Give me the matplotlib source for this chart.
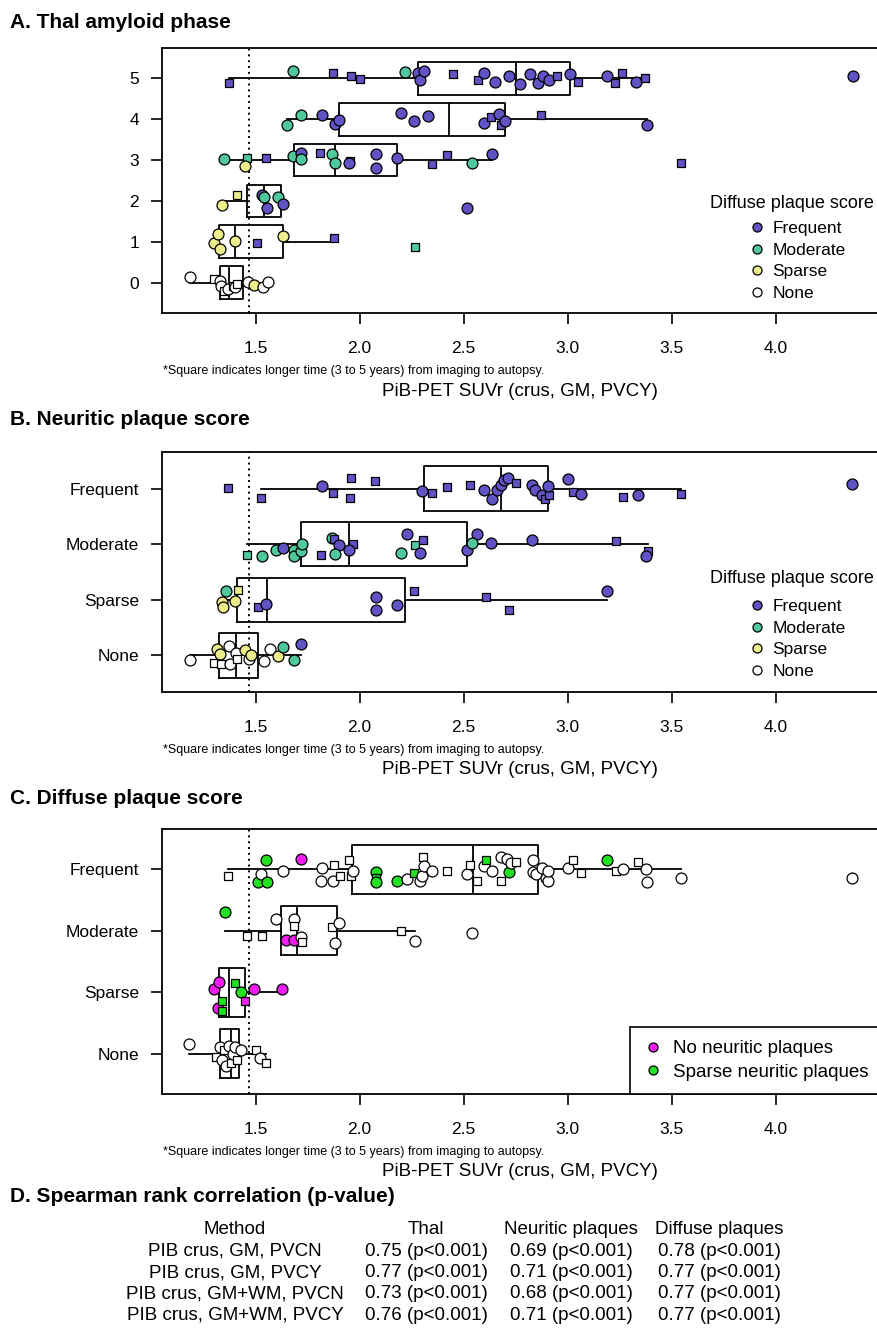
import matplotlib
matplotlib.use("Agg")
import matplotlib.pyplot as plt
from matplotlib.lines import Line2D

plt.rcParams["font.family"] = ["Liberation Sans", "DejaVu Sans"]

W, H = 877, 1339

# === colours ===
DPS_COLORS = {"F": "#6152C6", "M": "#4FC99C", "S": "#EDED8C", "N": "white"}
NP_COLORS = {"X": "#F21CF2", "G": "#22E022", "N": "white"}

# === A. Thal phase (rows 5..0) ===
thal_levels = [5, 4, 3, 2, 1, 0]
thal_suvr = [
    [1.37, 1.68, 1.87, 1.96, 2.00, 2.22, 2.28, 2.29, 2.31, 2.45, 2.57, 2.60, 2.65, 2.72,
     2.77, 2.82, 2.86, 2.88, 2.91, 2.95, 3.01, 3.05, 3.19, 3.23, 3.26, 3.33, 3.37, 4.37],
    [1.65, 1.72, 1.82, 1.88, 1.90, 2.20, 2.26, 2.33, 2.60, 2.63, 2.67, 2.68, 2.70, 2.87, 3.38],
    [1.35, 1.46, 1.45, 1.55, 1.68, 1.72, 1.72, 1.81, 1.866, 1.88, 1.955, 1.95, 2.08, 2.08,
     2.18, 2.347, 2.42, 2.54, 2.635, 3.545],
    [1.34, 1.41, 1.53, 1.54, 1.555, 1.61, 1.63, 2.515],
    [1.30, 1.32, 1.33, 1.40, 1.505, 1.63, 1.876, 2.265],
    [1.185, 1.30, 1.33, 1.335, 1.35, 1.365, 1.39, 1.40, 1.41, 1.465, 1.49, 1.535, 1.56],
]
thal_jit = [
    [-0.12, 0.17, 0.12, 0.05, -0.02, 0.15, 0.12, -0.05, 0.18, 0.1, -0.05, 0.12, -0.08, 0.05,
     -0.15, 0.1, -0.12, 0.05, -0.05, 0.05, 0.1, -0.08, 0.05, -0.12, 0.12, -0.1, 0.0, 0.05],
    [-0.15, 0.1, 0.1, -0.12, -0.02, 0.15, -0.05, 0.08, -0.1, 0.05, 0.12, -0.15, -0.05, 0.1, -0.15],
    [0.02, 0.06, -0.15, 0.04, 0.1, 0.18, 0.02, 0.18, 0.15, -0.06, -0.02, -0.06, 0.14, -0.19,
     0.06, -0.1, 0.12, -0.06, 0.16, -0.07],
    [-0.11, 0.15, 0.15, 0.09, -0.18, 0.09, -0.08, -0.18],
    [-0.02, 0.18, -0.17, 0.03, -0.04, 0.15, 0.1, -0.12],
    [0.14, 0.08, 0.04, -0.08, -0.2, -0.15, -0.08, -0.1, -0.04, 0.02, -0.06, -0.1, 0.02],
]
thal_dps = ["FMFFFM" + "F" * 22, "MMFFFFFFFFFFFFF", "MMSFMFMFMMFFFFFFFMFF",
            "SSFMFMFF", "SSSSFSFM", "NNNNNNNNNNSNN"]
thal_sq = ["1011100001100000000101011010", "000000000101010", "01010001001000011001",
           "01000000", "00001011", "0100101010000"]
thal_q1 = [2.28, 1.90, 1.685, 1.46, 1.324, 1.33]
thal_med = [2.75, 2.43, 1.88, 1.54, 1.40, 1.37]
thal_q3 = [3.01, 2.70, 2.18, 1.62, 1.63, 1.44]
thal_lo = [1.37, 1.65, 1.35, 1.34, 1.30, 1.185]
thal_hi = [3.37, 3.38, 2.635, 1.63, 1.876, 1.56]

# === B. Neuritic plaque score (Frequent..None) ===
score_labels = ["Frequent", "Moderate", "Sparse", "None"]
np_suvr = [
    [1.366, 1.526, 1.82, 1.87, 1.959, 1.954, 2.074, 2.30, 2.35, 2.42, 2.53, 2.60, 2.635, 2.66,
     2.68, 2.695, 2.714, 2.752, 2.83, 2.843, 2.875, 2.89, 2.91, 2.904, 3.0, 3.025, 3.063,
     3.265, 3.34, 3.544, 4.367],
    [1.46, 1.53, 1.60, 1.63, 1.685, 1.685, 1.717, 1.725, 1.815, 1.866, 1.875, 1.90, 1.883,
     1.967, 1.95, 2.23, 2.266, 2.306, 2.20, 2.29, 2.515, 2.563, 2.54, 2.632, 2.83, 3.233,
     3.385, 3.377],
    [1.34, 1.345, 1.356, 1.40, 1.414, 1.51, 1.55, 2.08, 2.08, 2.18, 2.26, 2.61, 2.72, 3.19],
    [1.185, 1.30, 1.315, 1.33, 1.335, 1.37, 1.375, 1.405, 1.41, 1.45, 1.47, 1.48, 1.54, 1.57,
     1.61, 1.63, 1.685, 1.72],
]
np_jit = [
    [0.02, -0.16, 0.04, -0.08, 0.2, -0.16, 0.13, -0.04, -0.08, 0.03, 0.07, -0.03, -0.18, -0.03,
     0.06, 0.15, 0.2, 0.1, 0.06, -0.03, -0.12, -0.18, -0.12, 0.04, 0.18, -0.06, -0.09,
     -0.15, -0.12, -0.09, 0.09],
    [-0.2, -0.21, -0.1, -0.07, -0.1, -0.21, -0.12, 0.01, -0.2, 0.12, 0.09, -0.01, -0.17,
     0.01, -0.1, 0.19, -0.01, 0.07, -0.15, -0.15, -0.11, 0.19, 0.03, 0.02, 0.07, 0.05,
     -0.12, -0.21],
    [-0.04, -0.13, 0.16, -0.02, 0.18, -0.13, -0.07, 0.05, -0.18, -0.09, 0.16, 0.05, -0.18, 0.16],
    [-0.08, -0.14, 0.11, 0.02, -0.15, 0.16, -0.15, 0.04, -0.06, 0.09, -0.06, 0.0, -0.1, 0.11,
     -0.01, 0.15, -0.09, 0.21],
]
np_dps = ["F" * 31, "MMMFMMMMFMFFMFFFMFMFFFMFFFFF", "SSMSSFFFFFFFFF", "NNSSNNNNNSNSNNSMMF"]
np_sq = ["1101111011100000010001100101010", "1000000010100100110000000110",
         "00001100001110", "010010001000000000"]
np_q1 = [2.31, 1.72, 1.41, 1.324]
np_med = [2.68, 1.95, 1.555, 1.405]
np_q3 = [2.907, 2.515, 2.22, 1.513]
np_lo = [1.526, 1.46, 1.34, 1.185]
np_hi = [3.544, 3.385, 3.19, 1.72]

# === C. Diffuse plaque score (Frequent..None), colour = neuritic plaques ===
dp_suvr = [
    [1.365, 1.51, 1.526, 1.55, 1.555, 1.63, 1.72, 1.815, 1.82, 1.87, 1.876, 1.906, 1.95, 1.96,
     1.97, 2.08, 2.08, 2.08, 2.18, 2.23, 2.26, 2.29, 2.30, 2.306, 2.31, 2.35, 2.42, 2.515,
     2.53, 2.563, 2.60, 2.61, 2.635, 2.68, 2.68, 2.71, 2.72, 2.73, 2.75, 2.835, 2.835, 2.85,
     2.875, 2.896, 2.905, 2.907, 3.0, 3.025, 3.063, 3.19, 3.233, 3.268, 3.34, 3.377, 3.38,
     3.544, 4.366],
    [1.353, 1.46, 1.53, 1.60, 1.646, 1.685, 1.685, 1.685, 1.72, 1.725, 1.866, 1.883, 1.90,
     2.20, 2.266, 2.54],
    [1.30, 1.32, 1.325, 1.34, 1.34, 1.40, 1.43, 1.45, 1.49, 1.628],
    [1.18, 1.31, 1.33, 1.34, 1.35, 1.36, 1.37, 1.38, 1.39, 1.40, 1.41, 1.43, 1.50, 1.52, 1.55],
]
dp_jit = [
    [-0.11, -0.21, -0.07, 0.15, -0.21, -0.02, 0.17, -0.19, 0.02, -0.18, 0.08, -0.11, 0.15,
     -0.11, -0.03, -0.04, -0.14, -0.21, -0.19, -0.15, -0.05, -0.18, -0.1, 0.2, 0.06, -0.02,
     -0.03, -0.07, 0.08, -0.18, 0.06, 0.15, -0.03, 0.2, -0.18, 0.17, -0.04, 0.1, 0.13, 0.15,
     -0.04, -0.08, 0.02, -0.14, -0.19, -0.03, 0.02, 0.16, -0.05, 0.15, -0.03, 0.0, 0.12, 0.0,
     -0.21, -0.14, -0.14],
    [0.3, -0.08, -0.08, 0.2, -0.15, 0.2, 0.08, -0.15, -0.1, -0.19, 0.06, -0.2, 0.13, 0.0,
     -0.16, -0.03],
    [0.05, -0.25, 0.16, -0.15, -0.3, 0.15, 0.0, -0.15, 0.05, 0.05],
    [0.15, -0.05, 0.1, -0.1, 0.05, -0.2, 0.12, -0.15, 0.0, 0.1, -0.1, 0.05, 0.05, -0.08, -0.15],
]
dp_np = ["NGNGGNXNNNNNNNNGGGGNGNNNNNNNNNNGNNNNGNNNNNNNNNNNNGNNNNNNN",
         "GNNNXNNXNNNNNNNN", "XXXGGGGXXX", "N" * 15]
dp_sq = ["100000000011110010001001001011010010001000000001101010000",
         "0110001001100100", "0001110100", "010010010010101"]
dp_q1 = [1.965, 1.62, 1.324, 1.33]
dp_med = [2.547, 1.70, 1.37, 1.38]
dp_q3 = [2.86, 1.893, 1.45, 1.42]
dp_lo = [1.365, 1.353, 1.30, 1.18]
dp_hi = [3.544, 2.266, 1.628, 1.55]

# === D. Spearman table ===
methods = ["PIB crus, GM, PVCN", "PIB crus, GM, PVCY",
           "PIB crus, GM+WM, PVCN", "PIB crus, GM+WM, PVCY"]
rho_thal = [0.75, 0.77, 0.73, 0.76]
rho_np = [0.69, 0.71, 0.68, 0.71]
rho_dp = [0.78, 0.77, 0.77, 0.77]

CUTOFF = 1.47
FOOTNOTE = "*Square indicates longer time (3 to 5 years) from imaging to autopsy."
XLABEL = "PiB-PET SUVr (crus, GM, PVCY)"

fig = plt.figure(figsize=(W / 100, H / 100), dpi=100)


def fy(py):
    return 1 - py / H


def panel(top, bottom, positions, ylabels, suvr, jit, codes, sq, colors,
          q1, med, q3, lo, hi):
    ax = fig.add_axes([162 / W, fy(bottom), (882 - 162) / W, (bottom - top) / H])
    stats = [dict(q1=a, med=m, q3=b, whislo=l, whishi=h)
             for a, m, b, l, h in zip(q1, med, q3, lo, hi)]
    lp = dict(color="black", linewidth=1.3)
    ax.bxp(stats, positions=positions, widths=0.8, orientation="horizontal",
           showfliers=False, showcaps=False, boxprops=lp, medianprops=lp,
           whiskerprops=dict(color="black", linewidth=1.3, linestyle="-"),
           zorder=2)
    ax.axvline(CUTOFF, color="black", linestyle=(0, (1, 2.0)), linewidth=1.4, zorder=1)
    for p, xs, js, cs, ss in zip(positions, suvr, jit, codes, sq):
        for x, j, c, s in zip(xs, js, cs, ss):
            if s == "1":
                ax.scatter(x, p + j, marker="s", s=40, facecolor=colors[c],
                           edgecolor="black", linewidths=0.9, zorder=3)
            else:
                ax.scatter(x, p + j, marker="o", s=62, facecolor=colors[c],
                           edgecolor="black", linewidths=0.9, zorder=3)
    n = len(positions)
    pad = 0.04 * n
    ax.set_ylim(min(positions) - 0.5 - pad, max(positions) + 0.5 + pad)
    ax.set_xlim(1.05, 1.05 + 720 / 208)
    ax.set_xticks([1.5, 2.0, 2.5, 3.0, 3.5, 4.0])
    ax.set_xticklabels(["1.5", "2.0", "2.5", "3.0", "3.5", "4.0"])
    ax.set_yticks(positions)
    ax.set_yticklabels(ylabels)
    ax.tick_params(axis="x", length=8, width=1.2, pad=12, labelsize=12.5)
    ax.tick_params(axis="y", length=8, width=1.2, pad=8.5, labelsize=12.5)
    for sp in ax.spines.values():
        sp.set_linewidth(1.3)
    fig.text(163 / W, fy(bottom + 58), FOOTNOTE, fontsize=9, va="center")
    fig.text(520 / W, fy(bottom + 78), XLABEL, fontsize=13.5, ha="center", va="center")
    return ax


def dps_legend(ax, title_y, cy):
    fig.text(792 / W, fy(title_y), "Diffuse plaque score", fontsize=13, ha="center",
             va="center")
    handles = [Line2D([], [], marker="o", linestyle="", markersize=6.5,
                      markerfacecolor=DPS_COLORS[k], markeredgecolor="black",
                      markeredgewidth=0.9) for k in "FMSN"]
    ax.legend(handles, ["Frequent", "Moderate", "Sparse", "None"], loc="center",
              bbox_to_anchor=(797 / W, fy(cy)), bbox_transform=fig.transFigure,
              frameon=False, fontsize=12.5, handlelength=1.0, handletextpad=0.4,
              labelspacing=0.36, borderpad=0)


TITLE = dict(fontsize=15, fontweight="bold", va="center")

# A
fig.text(10 / W, fy(22), "A. Thal amyloid phase", **TITLE)
axA = panel(48, 313, thal_levels, [str(v) for v in thal_levels], thal_suvr, thal_jit,
            thal_dps, thal_sq, DPS_COLORS, thal_q1, thal_med, thal_q3, thal_lo, thal_hi)
dps_legend(axA, 203, 261)

# B
fig.text(10 / W, fy(420), "B. Neuritic plaque score", **TITLE)
axB = panel(452, 692, [3, 2, 1, 0], score_labels, np_suvr, np_jit, np_dps, np_sq,
            DPS_COLORS, np_q1, np_med, np_q3, np_lo, np_hi)
dps_legend(axB, 579, 639)

# C
fig.text(10 / W, fy(799), "C. Diffuse plaque score", **TITLE)
axC = panel(829, 1094, [3, 2, 1, 0], score_labels, dp_suvr, dp_jit, dp_np, dp_sq,
            NP_COLORS, dp_q1, dp_med, dp_q3, dp_lo, dp_hi)
np_handles = [Line2D([], [], marker="o", linestyle="", markersize=6.5,
                     markerfacecolor=NP_COLORS[k], markeredgecolor="black",
                     markeredgewidth=0.9) for k in "XG"]
legC = axC.legend(np_handles, ["No neuritic plaques", "Sparse neuritic plaques"],
                  loc="lower right", borderaxespad=0, fancybox=False, framealpha=1,
                  edgecolor="black", fontsize=13.5, handlelength=1.0, handletextpad=0.6,
                  labelspacing=0.35, borderpad=0.7)
legC.get_frame().set_linewidth(1.2)

# D
fig.text(10 / W, fy(1196), "D. Spearman rank correlation (p-value)", **TITLE)
tfont = dict(fontsize=13.5, ha="center", va="center")
col_x = [235, 426, 571, 719]
for x, t in zip(col_x, ["Method", "Thal", "Neuritic plaques", "Diffuse plaques"]):
    fig.text(x / W, fy(1230), t, **tfont)
for i, m in enumerate(methods):
    y = fy(1251 + 21.5 * i)
    fig.text(col_x[0] / W, y, m, **tfont)
    for x, r in zip(col_x[1:], [rho_thal[i], rho_np[i], rho_dp[i]]):
        fig.text(x / W, y, f"{r:.2f} (p<0.001)", **tfont)

fig.savefig("out.png", dpi=100)
